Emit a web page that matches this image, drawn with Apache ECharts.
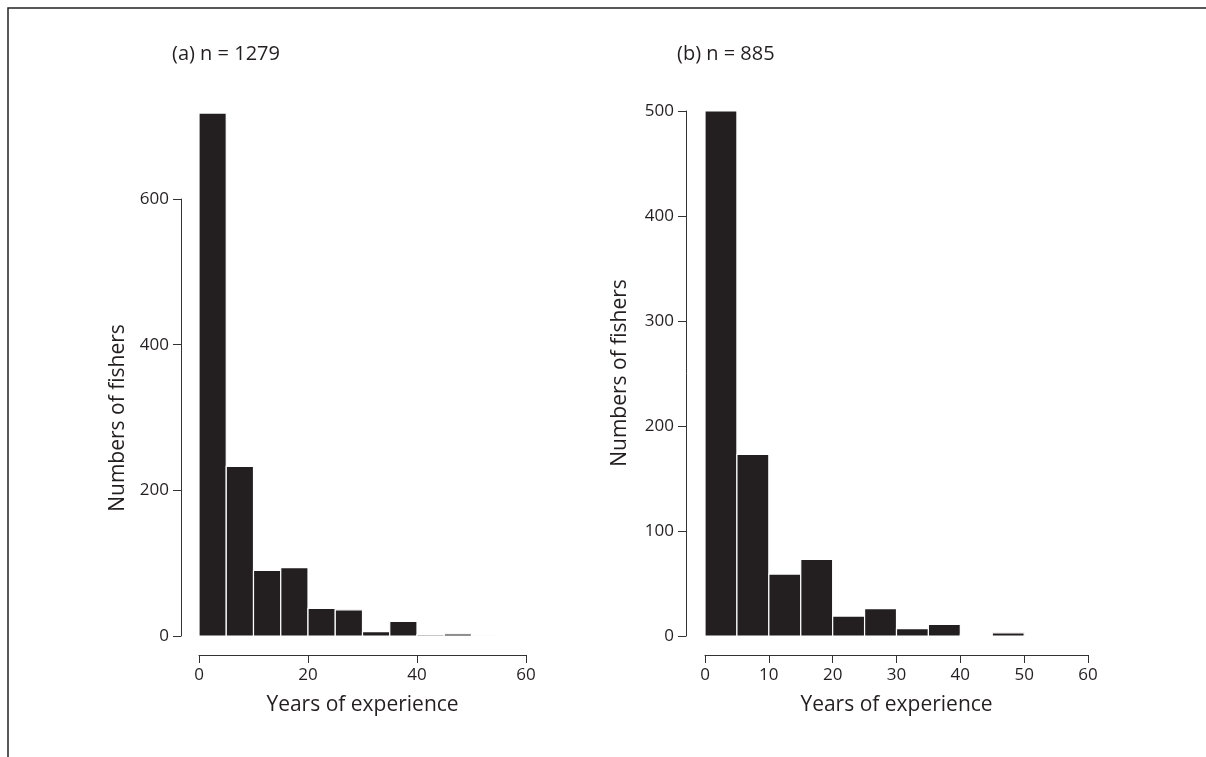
<!DOCTYPE html>
<html>
<head>
<meta charset="utf-8">
<script src="https://cdn.jsdelivr.net/npm/echarts@6/dist/echarts.min.js"></script>
<style>html,body{margin:0;padding:0;background:#fff}#chart{width:1206px;height:757px}</style>
</head>
<body>
<div id="chart"></div>
<script>
// histogram bins (years), 5-year width
var binStarts = [0, 5, 10, 15, 20, 25, 30, 35, 40, 45, 50, 55];
var countsA = [718, 233, 90, 94, 38, 36, 6, 20, 2, 3, 0.5, 0];
var countsB = [500, 173, 59, 73, 19, 26, 7, 11, 1, 3, 0, 0.5];
var ticksA = [0, 200, 400, 600];
var ticksB = [0, 100, 200, 300, 400, 500];

var font = '"Open Sans", "Noto Sans", sans-serif';
var txt = '#231f20';

function toData(counts) {
    return binStarts.map(function (s, i) { return [s, s + 5, counts[i]]; });
}

function renderBar(params, api) {
    if (!(api.value(2) > 0)) return null;
    var p0 = api.coord([api.value(0), 0]);
    var p1 = api.coord([api.value(1), api.value(2)]);
    return {
        type: 'rect',
        shape: { x: p0[0], y: p1[1], width: p1[0] - p0[0], height: p0[1] - p1[1] },
        style: { fill: '#231f20', stroke: '#fff', lineWidth: 1.2 }
    };
}

var axisLbl = { color: txt, fontSize: 17, fontFamily: font, margin: 12 };
var axLine = { show: true, onZero: false, lineStyle: { color: '#333', width: 1 } };
var axTick = { show: true, length: 8, lineStyle: { color: '#333' } };
var nameStyle = { fontSize: 21, color: txt, fontFamily: font };

var chart = echarts.init(document.getElementById('chart'));
chart.setOption({
    animation: false,
    grid: [
        { left: 199, width: 327, top: 111.6, height: 524.4 },   // data a
        { left: 199, width: 327, top: 199, height: 437 },       // y axis a
        { left: 705, width: 383, top: 111, height: 525 }        // b
    ],
    xAxis: [
        { gridIndex: 0, type: 'value', min: 0, max: 60, interval: 20, offset: 19,
          axisLine: axLine, axisTick: axTick, splitLine: { show: false }, axisLabel: axisLbl,
          name: 'Years of experience', nameLocation: 'middle', nameGap: 40, nameTextStyle: nameStyle },
        { gridIndex: 1, type: 'value', min: 0, max: 60, show: false },
        { gridIndex: 2, type: 'value', min: 0, max: 60, interval: 10, offset: 19,
          axisLine: axLine, axisTick: axTick, splitLine: { show: false }, axisLabel: axisLbl,
          name: 'Years of experience', nameLocation: 'middle', nameGap: 40, nameTextStyle: nameStyle }
    ],
    yAxis: [
        { gridIndex: 0, type: 'value', min: 0, max: 720, show: false },
        { gridIndex: 1, type: 'value', min: 0, max: 600, interval: 200, offset: 18,
          axisLine: axLine, axisTick: axTick, splitLine: { show: false }, axisLabel: axisLbl },
        { gridIndex: 2, type: 'value', min: 0, max: 500, interval: 100, offset: 19,
          axisLine: axLine, axisTick: axTick, splitLine: { show: false }, axisLabel: axisLbl }
    ],
    series: [
        { type: 'custom', xAxisIndex: 0, yAxisIndex: 0, renderItem: renderBar, data: toData(countsA) },
        { type: 'custom', xAxisIndex: 2, yAxisIndex: 2, renderItem: renderBar, data: toData(countsB) }
    ],
    graphic: [
        { type: 'polyline', shape: { points: [[8, 757], [8, 8], [1206, 8]] }, style: { stroke: '#222', lineWidth: 1.5, fill: null } },
        { type: 'text', left: 172, top: 44, style: { text: '(a) n = 1279', fontSize: 20, fill: txt, fontFamily: font } },
        { type: 'text', left: 677, top: 44, style: { text: '(b) n = 885', fontSize: 20, fill: txt, fontFamily: font } },
        { type: 'text', x: 118, y: 418, rotation: Math.PI / 2,
          style: { text: 'Numbers of fishers', fontSize: 21, fill: txt, fontFamily: font, align: 'center', verticalAlign: 'middle' } },
        { type: 'text', x: 620, y: 373, rotation: Math.PI / 2,
          style: { text: 'Numbers of fishers', fontSize: 21, fill: txt, fontFamily: font, align: 'center', verticalAlign: 'middle' } }
    ]
});
</script>
</body>
</html>
